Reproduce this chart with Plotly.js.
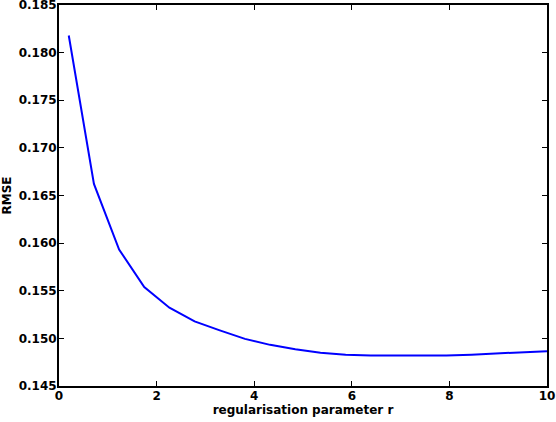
<!DOCTYPE html>
<html>
<head>
<meta charset="utf-8">
<script src="https://cdn.plot.ly/plotly-3.0.1.min.js"></script>
<style>
  html, body { margin: 0; padding: 0; background: #ffffff; }
  #chart { width: 556px; height: 422px; }
</style>
</head>
<body>
<div id="chart"></div>
<script>
// regularisation parameter r and the RMSE
const rValues = [0.2, 0.716, 1.232, 1.747, 2.263, 2.779, 3.295, 3.811, 4.326, 4.842,
                 5.358, 5.874, 6.389, 6.905, 7.421, 7.937, 8.453, 8.968, 9.484, 10.0];
const rmseValues = [0.1818, 0.16622, 0.15933, 0.15538, 0.15322, 0.15178, 0.15084, 0.14995, 0.14932, 0.14885,
                    0.1485, 0.14827, 0.14819, 0.14817, 0.14817, 0.14819, 0.14829, 0.1484, 0.14853, 0.14866];
const xTicks = [0, 2, 4, 6, 8, 10];
const yTicks = [0.145, 0.150, 0.155, 0.160, 0.165, 0.170, 0.175, 0.180, 0.185];

const tickFont = { family: 'DejaVu Sans', size: 12, color: '#000000', weight: 'bold' };

const trace = {
  x: rValues,
  y: rmseValues,
  type: 'scatter',
  mode: 'lines',
  line: { color: '#0000ff', width: 2 },
  hoverinfo: 'none'
};

const layout = {
  width: 556,
  height: 422,
  margin: { l: 59, r: 9, t: 5, b: 36 },
  paper_bgcolor: '#ffffff',
  plot_bgcolor: '#ffffff',
  showlegend: false,
  font: tickFont,
  xaxis: {
    range: [0, 10],
    tickvals: xTicks,
    ticktext: xTicks.map(v => String(v)),
    ticks: 'inside',
    ticklen: 5,
    tickwidth: 1,
    tickcolor: '#000000',
    showline: true,
    linecolor: '#000000',
    linewidth: 2,
    mirror: 'ticks',
    showgrid: false,
    zeroline: false,
    tickfont: tickFont,
    ticklabelstandoff: -2,
    ticklabeloverflow: 'allow',
    title: { text: 'regularisation parameter r', font: tickFont, standoff: 3 },
    automargin: false
  },
  yaxis: {
    range: [0.145, 0.185],
    tickvals: yTicks,
    ticktext: yTicks.map(v => v.toFixed(3)),
    ticks: 'inside',
    ticklen: 5,
    tickwidth: 1,
    tickcolor: '#000000',
    showline: true,
    linecolor: '#000000',
    linewidth: 2,
    mirror: 'ticks',
    showgrid: false,
    zeroline: false,
    tickfont: tickFont,
    ticklabelstandoff: -2,
    ticklabeloverflow: 'allow',
    title: { text: 'RMSE', font: tickFont, standoff: 4 },
    automargin: false
  }
};

Plotly.newPlot('chart', [trace], layout, { staticPlot: true, displayModeBar: false });
</script>
</body>
</html>
